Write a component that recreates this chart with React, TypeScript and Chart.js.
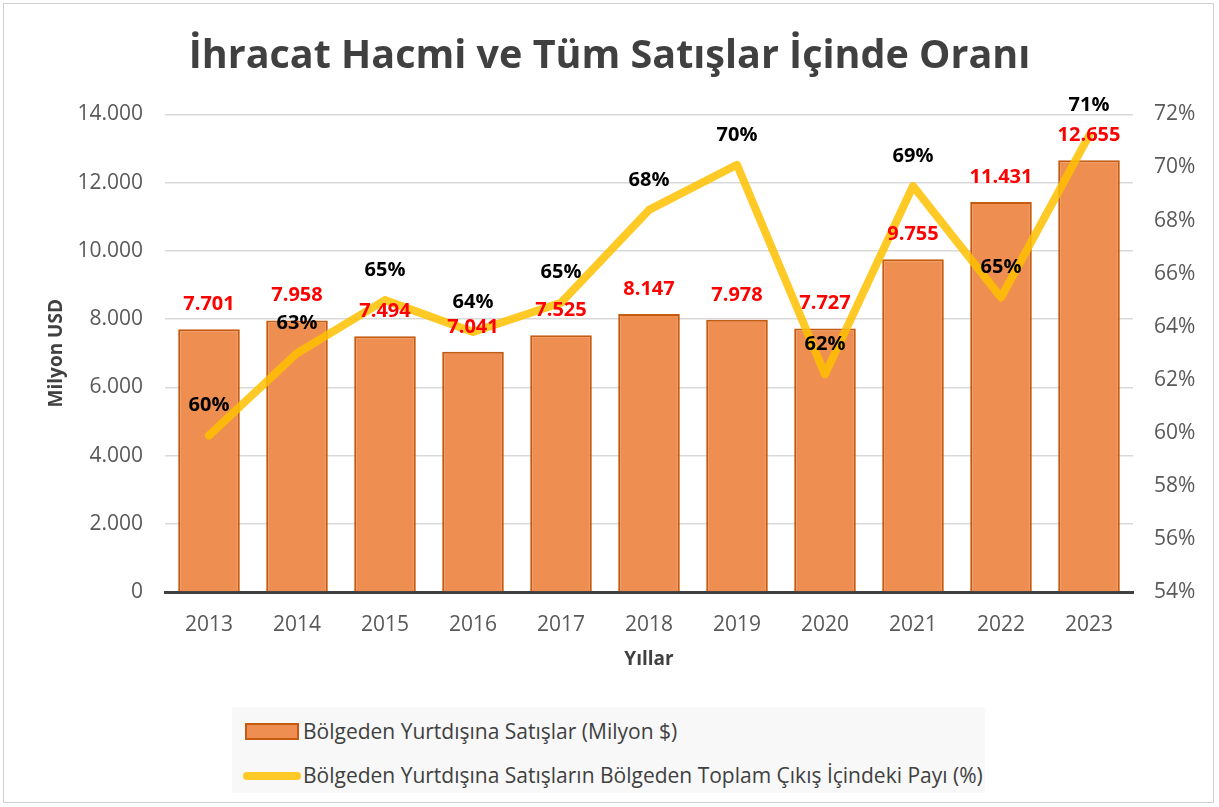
import React, { useEffect, useRef } from "react";
import { Chart, registerables } from "chart.js";

Chart.register(...registerables);

const years = ["2013", "2014", "2015", "2016", "2017", "2018", "2019", "2020", "2021", "2022", "2023"];
const exportSales = [7701, 7958, 7494, 7041, 7525, 8147, 7978, 7727, 9755, 11431, 12655];
const exportShare = [59.9, 63.0, 65.0, 63.8, 64.9, 68.4, 70.1, 62.2, 69.3, 65.1, 71.2];

const titleText = "İhracat Hacmi ve Tüm Satışlar İçinde Oranı";
const barLabel = "Bölgeden Yurtdışına Satışlar (Milyon $)";
const lineLabel = "Bölgeden Yurtdışına Satışların Bölgeden Toplam Çıkış İçindeki Payı (%)";
const yTitle = "Milyon USD";
const xTitle = "Yıllar";

const FONT = "'Open Sans', 'Noto Sans', sans-serif";
const BAR_FILL = "#EE8F51";
const BAR_BORDER = "#C55A11";
const LINE_COLOR = "rgba(255,192,0,0.85)";

const fmtThousands = (n: number) => Math.round(n).toString().replace(/\B(?=(\d{3})+(?!\d))/g, ".");

const labelPlugin = {
  id: "valueLabels",
  afterDatasetsDraw(chart: any) {
    const ctx = chart.ctx;
    ctx.save();
    ctx.textAlign = "center";
    ctx.textBaseline = "middle";
    ctx.font = `bold 20px ${FONT}`;
    chart.data.datasets.forEach((ds: any, i: number) => {
      const meta = chart.getDatasetMeta(i);
      meta.data.forEach((el: any, j: number) => {
        const v = ds.data[j];
        if (ds.type === "bar") {
          ctx.fillStyle = "#FF0000";
          ctx.fillText(fmtThousands(v), el.x, el.y - 25);
        } else {
          ctx.fillStyle = "#000000";
          ctx.fillText(Math.round(v) + "%", el.x, el.y - 30);
        }
      });
    });
    ctx.restore();
  },
};

export default function App() {
  const canvasRef = useRef<HTMLCanvasElement | null>(null);

  useEffect(() => {
    document.body.style.margin = "0";
    const canvas = canvasRef.current;
    if (!canvas) return;
    const chart = new Chart(canvas, {
      type: "bar",
      data: {
        labels: years,
        datasets: [
          {
            type: "line",
            label: lineLabel,
            data: exportShare,
            yAxisID: "y1",
            borderColor: LINE_COLOR,
            backgroundColor: LINE_COLOR,
            borderWidth: 8,
            borderCapStyle: "round",
            borderJoinStyle: "round",
            pointRadius: 0,
            tension: 0,
            order: 0,
          } as any,
          {
            type: "bar",
            label: barLabel,
            data: exportSales,
            yAxisID: "y",
            backgroundColor: BAR_FILL,
            borderColor: BAR_BORDER,
            borderWidth: 2,
            borderSkipped: "bottom",
            barPercentage: 0.7,
            categoryPercentage: 1,
            order: 1,
          } as any,
        ],
      },
      options: {
        responsive: false,
        animation: false,
        maintainAspectRatio: false,
        layout: { padding: { top: 0, left: 0, right: 0, bottom: 135.6 } },
        plugins: {
          legend: { display: false },
          tooltip: { enabled: false },
          title: {
            display: true,
            text: titleText,
            color: "#404040",
            font: { family: FONT, size: 39.5, weight: "bold" },
            padding: { top: 33.5, bottom: 33.5 },
          },
        },
        scales: {
          x: {
            grid: { display: false, drawTicks: false },
            border: { display: true, color: "#404040", width: 3 },
            ticks: { color: "#595959", font: { family: FONT, size: 21 }, padding: 20 },
            title: {
              display: true,
              text: xTitle,
              color: "#404040",
              font: { family: FONT, size: 19, weight: "bold" },
              padding: { top: 0, bottom: 0 },
            },
            afterFit: (s: any) => {
              s.height = 79.4;
            },
          },
          y: {
            position: "left",
            min: 0,
            max: 14000,
            grid: { color: "#D9D9D9", lineWidth: 1.5, drawTicks: false },
            border: { display: false },
            ticks: {
              stepSize: 2000,
              color: "#595959",
              font: { family: FONT, size: 21 },
              padding: 22,
              callback: (v: any) => fmtThousands(Number(v)),
            },
            title: {
              display: true,
              text: yTitle,
              color: "#404040",
              font: { family: FONT, size: 19, weight: "bold" },
              padding: { top: 45.6, bottom: 0 },
            },
            afterFit: (s: any) => {
              s.width = 165;
            },
          },
          y1: {
            position: "right",
            min: 54,
            max: 72,
            grid: { display: false, drawTicks: false },
            border: { display: false },
            ticks: {
              stepSize: 2,
              color: "#595959",
              font: { family: FONT, size: 21 },
              padding: 21,
              callback: (v: any) => Number(v) + "%",
            },
            afterFit: (s: any) => {
              s.width = 86;
            },
          },
        },
      } as any,
      plugins: [labelPlugin],
    });
    return () => chart.destroy();
  }, []);

  const legendText: React.CSSProperties = {
    position: "absolute",
    left: 303,
    fontFamily: FONT,
    fontSize: 21,
    color: "#404040",
    whiteSpace: "nowrap",
    lineHeight: "28px",
    height: 28,
  };

  return (
    <div style={{ position: "absolute", left: 0, top: 0, width: 1219, height: 807, background: "#fff", overflow: "hidden" }}>
      <canvas ref={canvasRef} width={1219} height={807} style={{ position: "absolute", left: 0, top: 0, width: 1219, height: 807 }} />
      <div
        style={{
          position: "absolute",
          left: 3,
          top: 3,
          width: 1209,
          height: 798,
          border: "1.5px solid #D0D0D0",
          pointerEvents: "none",
        }}
      />
      <div style={{ position: "absolute", left: 232, top: 707, width: 753, height: 86, background: "#F8F8F8" }} />
      <div
        style={{
          position: "absolute",
          left: 245,
          top: 723,
          width: 50,
          height: 13,
          background: BAR_FILL,
          border: `2px solid ${BAR_BORDER}`,
        }}
      />
      <span style={{ ...legendText, top: 717 }}>{barLabel}</span>
      <div
        style={{
          position: "absolute",
          left: 243,
          top: 772,
          width: 58,
          height: 8,
          borderRadius: 4,
          background: LINE_COLOR,
        }}
      />
      <span style={{ ...legendText, top: 761 }}>{lineLabel}</span>
    </div>
  );
}
